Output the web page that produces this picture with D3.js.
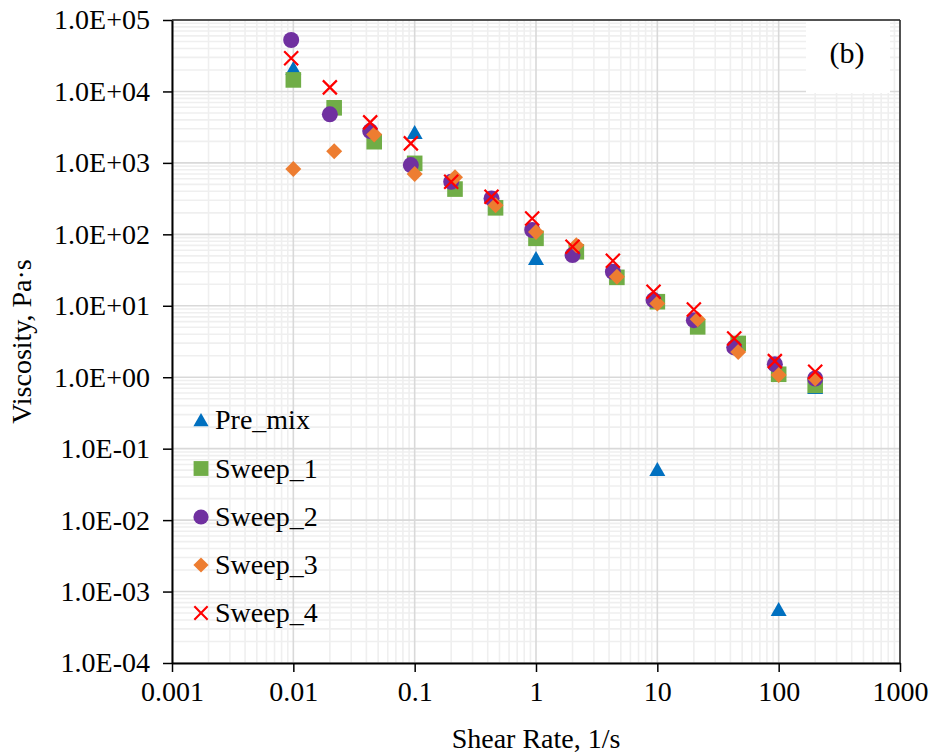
<!DOCTYPE html>
<html><head><meta charset="utf-8">
<script src="https://cdn.jsdelivr.net/npm/d3@7"></script>
<style>html,body{margin:0;padding:0;background:#fff;}</style>
</head><body>
<svg id="chart" width="935" height="755"></svg>
<script>
const seriesNames = ["Pre_mix","Sweep_1","Sweep_2","Sweep_3","Sweep_4"];
const preMixX = [0.01, 0.1, 1, 10, 100, 200];
const preMixY = [21000, 2670, 46, 0.051, 0.00056, 0.72];
const sweep1X = [0.01, 0.0217, 0.0464, 0.1, 0.215, 0.464, 1, 2.15, 4.64, 10, 21.5, 46.4, 100, 200];
const sweep1Y = [14500, 5900, 1980, 985, 430, 235, 88, 57, 25, 11.4, 5.07, 2.97, 1.10, 0.77];
const sweep2X = [0.0096, 0.02, 0.043, 0.093, 0.2, 0.43, 0.93, 2.0, 4.3, 9.3, 20, 43, 93, 200];
const sweep2Y = [52500, 4780, 2790, 931, 543, 318, 115, 51.2, 29.9, 12.0, 6.28, 2.61, 1.52, 0.96];
const sweep3X = [0.01, 0.0217, 0.0464, 0.1, 0.215, 0.464, 1, 2.15, 4.64, 10, 21.5, 46.4, 100, 200];
const sweep3Y = [818, 1460, 2500, 697, 627, 256, 108, 70.6, 25.4, 10.8, 6.49, 2.26, 1.07, 0.96];
const sweep4X = [0.0096, 0.02, 0.043, 0.093, 0.2, 0.43, 0.93, 2.0, 4.3, 9.3, 20, 43, 93, 200];
const sweep4Y = [29100, 11400, 3690, 1876, 543, 335, 167, 66.9, 42.6, 15.7, 8.87, 3.49, 1.68, 1.19];
const xTickValues = [0.001, 0.01, 0.1, 1, 10, 100, 1000];
const xTickLabels = ["0.001","0.01","0.1","1","10","100","1000"];
const yTickValues = [1e5,1e4,1e3,1e2,1e1,1e0,1e-1,1e-2,1e-3,1e-4];
const yTickLabels = ["1.0E+05","1.0E+04","1.0E+03","1.0E+02","1.0E+01","1.0E+00","1.0E-01","1.0E-02","1.0E-03","1.0E-04"];
const colors = ["#0070C0","#70AD47","#7030A0","#ED7D31","#FF0000"];
const shapes = ["triangle","square","circle","diamond","cross"];

const series = [
  {name: seriesNames[0], xs: preMixX, ys: preMixY},
  {name: seriesNames[1], xs: sweep1X, ys: sweep1Y},
  {name: seriesNames[2], xs: sweep2X, ys: sweep2Y},
  {name: seriesNames[3], xs: sweep3X, ys: sweep3Y},
  {name: seriesNames[4], xs: sweep4X, ys: sweep4Y}
];

const svg = d3.select("#chart");
const L = 172, R = 900, T = 20, B = 663;
const x = d3.scaleLog().domain([0.001, 1000]).range([L, R]);
const y = d3.scaleLog().domain([1e-4, 1e5]).range([B, T]);
const font = "'Liberation Serif','Times New Roman',serif";

// minor grid
const minorX = [], minorY = [];
for (let e = -3; e < 3; e++) for (let m = 2; m <= 9; m++) minorX.push(m * Math.pow(10, e));
for (let e = -4; e < 5; e++) for (let m = 2; m <= 9; m++) minorY.push(m * Math.pow(10, e));
const g = svg.append("g");
g.selectAll(".mx").data(minorX).enter().append("line")
  .attr("x1", d => x(d)).attr("x2", d => x(d)).attr("y1", T).attr("y2", B)
  .attr("stroke", "#efefef").attr("stroke-width", 1.6);
g.selectAll(".my").data(minorY).enter().append("line")
  .attr("y1", d => y(d)).attr("y2", d => y(d)).attr("x1", L).attr("x2", R)
  .attr("stroke", "#efefef").attr("stroke-width", 1.6);
g.selectAll(".Mx").data(xTickValues).enter().append("line")
  .attr("x1", d => x(d)).attr("x2", d => x(d)).attr("y1", T).attr("y2", B)
  .attr("stroke", "#d9d9d9").attr("stroke-width", 1.6);
g.selectAll(".My").data(yTickValues).enter().append("line")
  .attr("y1", d => y(d)).attr("y2", d => y(d)).attr("x1", L).attr("x2", R)
  .attr("stroke", "#d9d9d9").attr("stroke-width", 1.6);

// (b) label box
svg.append("rect").attr("x", 806).attr("y", T + 1).attr("width", 84).attr("height", 72).attr("fill", "#fff");
svg.append("text").attr("x", 847).attr("y", 63).attr("text-anchor", "middle")
  .attr("font-family", font).attr("font-size", 30).text("(b)");

// frame
svg.append("line").attr("x1", L).attr("x2", R).attr("y1", T).attr("y2", T).attr("stroke", "#222").attr("stroke-width", 1.5);
svg.append("line").attr("x1", R).attr("x2", R).attr("y1", T).attr("y2", B).attr("stroke", "#222").attr("stroke-width", 1.5);

// axes
const xAxis = d3.axisBottom(x).tickValues(xTickValues).tickFormat((d, i) => xTickLabels[i]).tickSize(9).tickSizeOuter(0);
const yAxis = d3.axisLeft(y).tickValues(yTickValues).tickFormat((d, i) => yTickLabels[i]).tickSize(9).tickSizeOuter(0);
const gx = svg.append("g").attr("transform", `translate(0,${B})`).call(xAxis);
const gy = svg.append("g").attr("transform", `translate(${L},0)`).call(yAxis);
[gx, gy].forEach(a => {
  a.select(".domain").attr("stroke", "#000").attr("stroke-width", 2);
  a.selectAll(".tick line").attr("stroke", "#000").attr("stroke-width", 1.5);
  a.selectAll(".tick text").attr("font-family", font).attr("font-size", 28).attr("fill", "#000");
});
gx.selectAll(".tick text").attr("y", 18).attr("dy", "0.71em");
gy.selectAll(".tick text").attr("x", -22).attr("dy", "0.32em");

// axis titles
svg.append("text").attr("x", (L + R) / 2).attr("y", 748).attr("text-anchor", "middle")
  .attr("font-family", font).attr("font-size", 28).text("Shear Rate, 1/s");
svg.append("text").attr("transform", `translate(31,${(T + B) / 2}) rotate(-90)`).attr("text-anchor", "middle")
  .attr("font-family", font).attr("font-size", 28).text("Viscosity, Pa·s");

// marker drawing
function marker(sel, shape, color) {
  if (shape === "triangle") {
    sel.append("path").attr("d", "M0,-7.5L8,6.5L-8,6.5Z").attr("fill", color);
  } else if (shape === "square") {
    sel.append("rect").attr("x", -7.8).attr("y", -7.8).attr("width", 15.6).attr("height", 15.6).attr("fill", color);
  } else if (shape === "circle") {
    sel.append("circle").attr("r", 8).attr("fill", color);
  } else if (shape === "diamond") {
    sel.append("path").attr("d", "M0,-8L8,0L0,8L-8,0Z").attr("fill", color);
  } else {
    sel.append("path").attr("d", "M-7,-7L7,7M-7,7L7,-7").attr("stroke", color).attr("stroke-width", 2.2).attr("fill", "none");
  }
}

series.forEach((s, i) => {
  const pts = s.xs.map((xv, j) => [xv, s.ys[j]]);
  svg.append("g").selectAll("g").data(pts).enter().append("g")
    .attr("transform", d => `translate(${x(d[0])},${y(d[1])})`)
    .each(function() { marker(d3.select(this), shapes[i], colors[i]); });
});

// legend
const legendY = [420, 468.5, 517, 565, 613];
series.forEach((s, i) => {
  const lg = svg.append("g").attr("transform", `translate(201,${legendY[i]})`);
  const m = lg.append("g").attr("transform", "scale(0.95)");
  marker(m, shapes[i], colors[i]);
  lg.append("text").attr("x", 14).attr("y", 0).attr("dy", "0.33em")
    .attr("font-family", font).attr("font-size", 28).attr("fill", "#000").text(s.name);
});
</script>
</body></html>
